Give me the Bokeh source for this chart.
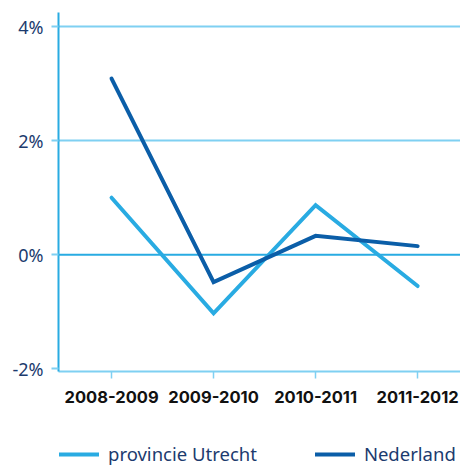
from bokeh.plotting import figure
from bokeh.layouts import column
from bokeh.models import Range1d, FixedTicker, Span, Legend, LegendItem
from bokeh.embed import file_html
from bokeh.resources import INLINE

categories = ["2008-2009", "2009-2010", "2010-2011", "2011-2012"]
utrecht = [1.0, -1.03, 0.87, -0.55]
nederland = [3.09, -0.48, 0.33, 0.15]
y_ticks = [-2, 0, 2, 4]
y_labels = ["-2%", "0%", "2%", "4%"]

xs = list(range(len(categories)))

NAVY = "#1c3b6e"
LIGHT = "#29abe2"
DARK = "#0b5ea8"
GRID = "#7fd0f2"

p = figure(width=460, height=415, output_backend="svg", toolbar_location=None,
           x_range=Range1d(-0.52, 3.42), y_range=Range1d(-2.05, 4.25),
           min_border_left=58, min_border_right=0, min_border_top=12, min_border_bottom=44)
p.outline_line_color = None
p.background_fill_color = None
p.border_fill_color = None

# grid
p.xgrid.grid_line_color = None
p.ygrid.ticker = FixedTicker(ticks=[2, 4])
p.ygrid.grid_line_color = GRID
p.ygrid.grid_line_width = 2
zero = Span(location=0, dimension="width", line_color=LIGHT, line_width=2, level="underlay")
p.add_layout(zero)

# y axis
p.yaxis.ticker = FixedTicker(ticks=y_ticks)
p.yaxis.major_label_overrides = {t: l for t, l in zip(y_ticks, y_labels)}
p.yaxis.axis_line_color = LIGHT
p.yaxis.axis_line_width = 2
p.yaxis.major_tick_line_color = GRID
p.yaxis.major_tick_line_width = 2
p.yaxis.major_tick_out = 7
p.yaxis.major_tick_in = 0
p.yaxis.minor_tick_line_color = None
p.yaxis.major_label_text_font = "Noto Sans"
p.yaxis.major_label_text_font_size = "18px"
p.yaxis.major_label_text_color = NAVY
p.yaxis.major_label_standoff = 8

# x axis
p.xaxis.ticker = FixedTicker(ticks=xs)
p.xaxis.major_label_overrides = {x: c for x, c in zip(xs, categories)}
p.xaxis.axis_line_color = GRID
p.xaxis.axis_line_width = 2
p.xaxis.major_tick_line_color = GRID
p.xaxis.major_tick_line_width = 1.5
p.xaxis.major_tick_out = 7
p.xaxis.major_tick_in = 0
p.xaxis.minor_tick_line_color = None
p.xaxis.major_label_text_font = "Inter"
p.xaxis.major_label_text_font_style = "bold"
p.xaxis.major_label_text_font_size = "16.5px"
p.xaxis.major_label_text_color = "#111111"
p.xaxis.major_label_standoff = 12

p.line(xs, utrecht, line_color=LIGHT, line_width=4, line_cap="round", line_join="miter")
p.line(xs, nederland, line_color=DARK, line_width=4, line_cap="round", line_join="miter")

# legend strip
p2 = figure(width=460, height=51, output_backend="svg", toolbar_location=None,
            x_range=Range1d(100, 101), y_range=Range1d(100, 101),
            min_border_left=0, min_border_right=0, min_border_top=0, min_border_bottom=0)
p2.axis.visible = False
p2.grid.visible = False
p2.outline_line_color = None
p2.background_fill_color = None
p2.border_fill_color = None
l1 = p2.line(xs, utrecht, line_color=LIGHT, line_width=4, line_cap="round")
l2 = p2.line(xs, nederland, line_color=DARK, line_width=4, line_cap="round")

legend = Legend(items=[LegendItem(label="provincie Utrecht", renderers=[l1]),
                       LegendItem(label="Nederland", renderers=[l2])],
                orientation="horizontal", location=(1, 0),
                glyph_width=40, label_standoff=9, spacing=58,
                padding=0, margin=0,
                border_line_color=None, background_fill_alpha=0)
legend.label_text_font = "Noto Sans"
legend.label_text_font_size = "18.5px"
legend.label_text_color = NAVY
p2.add_layout(legend, "center")

layout = column(p, p2, spacing=0)
open("out.html", "w").write(file_html(layout, INLINE))
